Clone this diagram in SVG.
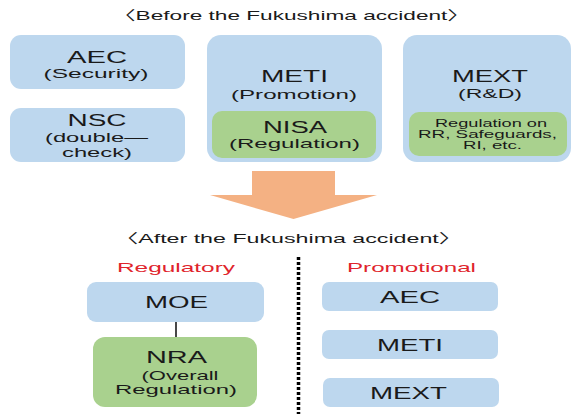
<svg xmlns="http://www.w3.org/2000/svg" width="572" height="414" viewBox="0 0 572 414">
<defs>
<style>
text{font-family:"Liberation Sans",Arial,"Noto Sans CJK KR",sans-serif;fill:#1a1a1a;text-anchor:middle}
.t{font-size:13px}
.big{font-size:16px}
.mid{font-size:13px}
.sm{font-size:10.5px}
.red{font-size:13.5px;fill:#e0242c}
.blue{fill:#bdd7ee}
.green{fill:#a9d18e}
</style>
</defs>
<rect width="572" height="414" fill="#ffffff"/>
<text class="t" x="291.5" y="20" textLength="357" lengthAdjust="spacingAndGlyphs">〈Before the Fukushima accident〉</text>
<g id="aec-before">
<rect class="blue" x="10" y="35" width="175" height="54" rx="11"/>
<text class="big" x="97" y="63" textLength="60" lengthAdjust="spacingAndGlyphs">AEC</text>
<text class="mid" x="96" y="78" textLength="105" lengthAdjust="spacingAndGlyphs">(Security)</text>
</g>
<g id="nsc">
<rect class="blue" x="10" y="108" width="175" height="54" rx="11"/>
<text class="big" x="97" y="126" textLength="59" lengthAdjust="spacingAndGlyphs">NSC</text>
<text class="mid" x="96.5" y="142" textLength="103" lengthAdjust="spacingAndGlyphs">(double—</text>
<text class="mid" x="97" y="157" textLength="70" lengthAdjust="spacingAndGlyphs">check)</text>
</g>
<g id="meti-before">
<rect class="blue" x="207" y="35" width="175" height="127" rx="14"/>
<text class="big" x="294.5" y="82" textLength="67" lengthAdjust="spacingAndGlyphs">METI</text>
<text class="mid" x="294" y="99" textLength="126" lengthAdjust="spacingAndGlyphs">(Promotion)</text>
</g>
<g id="nisa">
<rect class="green" x="212" y="111" width="164" height="47" rx="10"/>
<text class="big" x="295" y="133" textLength="64" lengthAdjust="spacingAndGlyphs">NISA</text>
<text class="mid" x="294.5" y="148" textLength="131" lengthAdjust="spacingAndGlyphs">(Regulation)</text>
</g>
<g id="mext-before">
<rect class="blue" x="403" y="35" width="168" height="127" rx="14"/>
<text class="big" x="490" y="82" textLength="76" lengthAdjust="spacingAndGlyphs">MEXT</text>
<text class="mid" x="490" y="98" textLength="64" lengthAdjust="spacingAndGlyphs">(R&amp;D)</text>
</g>
<g id="mext-regulation">
<rect class="green" x="409" y="112" width="158" height="44" rx="10"/>
<text class="sm" x="491" y="127" textLength="112" lengthAdjust="spacingAndGlyphs">Regulation on</text>
<text class="sm" x="487.5" y="138" textLength="139" lengthAdjust="spacingAndGlyphs">RR, Safeguards,</text>
<text class="sm" x="492.5" y="149" textLength="59" lengthAdjust="spacingAndGlyphs">RI, etc.</text>
</g>
<g id="transition-arrow">
<polygon points="252,171 335,171 335,195 377,195 293.5,219 210,195 252,195" fill="#f4b183"/>
</g>
<text class="t" x="288.5" y="243" textLength="347" lengthAdjust="spacingAndGlyphs">〈After the Fukushima accident〉</text>
<text class="red" x="176" y="272" textLength="118" lengthAdjust="spacingAndGlyphs">Regulatory</text>
<text class="red" x="411.5" y="272" textLength="129" lengthAdjust="spacingAndGlyphs">Promotional</text>
<g id="connectors">
<line x1="298.5" y1="257" x2="298.5" y2="414" stroke="#000" stroke-width="3.5" stroke-dasharray="3 2"/>
<line x1="176" y1="322" x2="176" y2="337" stroke="#1a1a1a" stroke-width="1.6"/>
</g>
<g id="moe">
<rect class="blue" x="87" y="282" width="177" height="40" rx="9"/>
<text class="big" x="176.5" y="308" textLength="63" lengthAdjust="spacingAndGlyphs">MOE</text>
</g>
<g id="nra">
<rect class="green" x="93" y="337" width="164" height="70" rx="12"/>
<text class="big" x="176.5" y="363" textLength="61" lengthAdjust="spacingAndGlyphs">NRA</text>
<text class="mid" x="180" y="380" textLength="77" lengthAdjust="spacingAndGlyphs">(Overall</text>
<text class="mid" x="176" y="394" textLength="122" lengthAdjust="spacingAndGlyphs">Regulation)</text>
</g>
<g id="aec-after">
<rect class="blue" x="322" y="282" width="176" height="29" rx="7"/>
<text class="big" x="410" y="303" textLength="60" lengthAdjust="spacingAndGlyphs">AEC</text>
</g>
<g id="meti-after">
<rect class="blue" x="322" y="330" width="176" height="29" rx="7"/>
<text class="big" x="410" y="351" textLength="66" lengthAdjust="spacingAndGlyphs">METI</text>
</g>
<g id="mext-after">
<rect class="blue" x="323" y="378" width="176" height="29" rx="7"/>
<text class="big" x="408.5" y="399" textLength="77" lengthAdjust="spacingAndGlyphs">MEXT</text>
</g>
</svg>
